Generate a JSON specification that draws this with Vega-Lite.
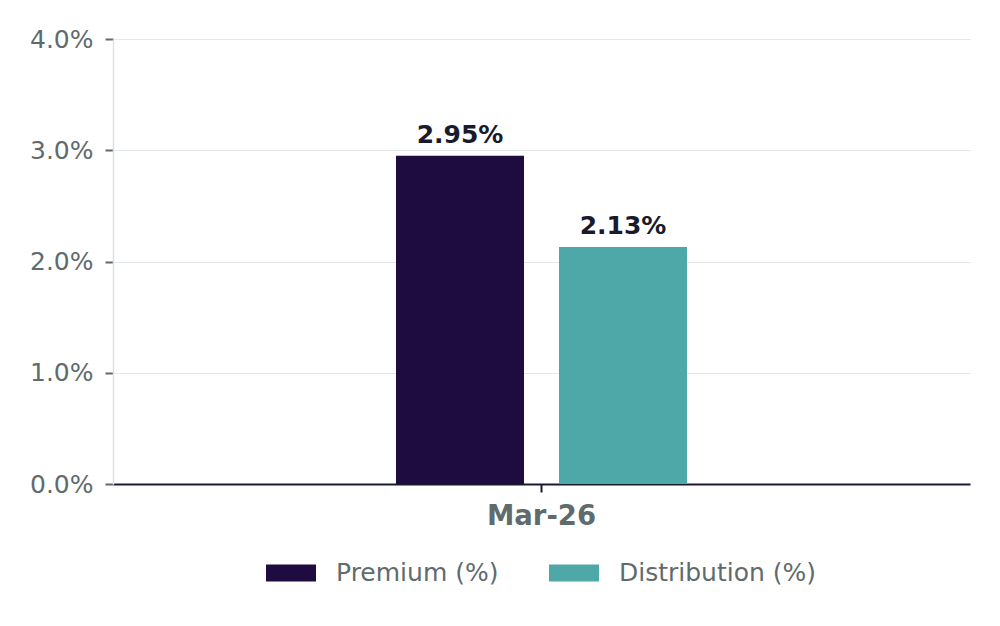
{
  "$schema": "https://vega.github.io/schema/vega-lite/v6.json",
  "width": 857,
  "height": 445,
  "autosize": {"type": "none"},
  "padding": {"left": 113, "top": 39, "right": 30, "bottom": 142},
  "background": "white",
  "config": {
    "view": {"stroke": null},
    "font": "DejaVu Sans"
  },
  "data": {
    "values": [
      {"date": "Mar-26", "series": "Premium (%)", "value": 0.0295},
      {"date": "Mar-26", "series": "Distribution (%)", "value": 0.0213}
    ]
  },
  "encoding": {
    "x": {
      "field": "date",
      "type": "nominal",
      "scale": {"paddingInner": 0, "paddingOuter": 0.9725},
      "axis": {
        "title": null,
        "labelAngle": 0,
        "labelFont": "DejaVu Sans",
        "labelFontSize": 27.5,
        "labelFontWeight": "bold",
        "labelColor": "#5f6b6d",
        "labelPadding": 10,
        "domainColor": "#1a1a2e",
        "domainWidth": 2,
        "tickColor": "#1a1a2e",
        "tickWidth": 2,
        "tickSize": 8,
        "grid": false
      }
    },
    "xOffset": {
      "field": "series",
      "type": "nominal",
      "sort": ["Premium (%)", "Distribution (%)"],
      "scale": {"paddingInner": 0.2147, "paddingOuter": 0}
    },
    "y": {
      "field": "value",
      "type": "quantitative",
      "scale": {"domain": [0, 0.04]},
      "axis": {
        "title": null,
        "format": ".1%",
        "tickCount": 5,
        "labelFont": "DejaVu Sans",
        "labelFontSize": 25,
        "labelColor": "#5f6b6d",
        "labelPadding": 12,
        "domainColor": "#dde1e6",
        "domainWidth": 1.5,
        "tickColor": "#5f6b6d",
        "tickSize": 8,
        "tickWidth": 2,
        "gridColor": "#e3e6ea",
        "gridWidth": 1
      }
    }
  },
  "layer": [
    {
      "mark": {"type": "bar"},
      "encoding": {
        "color": {
          "field": "series",
          "type": "nominal",
          "scale": {"domain": ["Premium (%)", "Distribution (%)"], "range": ["#1e0b40", "#4ea8a8"]},
          "legend": {
            "title": null,
            "orient": "none",
            "direction": "horizontal",
            "legendX": 153,
            "legendY": 509,
            "symbolType": "M-1,-0.34H1V0.34H-1Z",
            "symbolSize": 2500,
            "symbolStrokeWidth": 0,
            "labelFont": "DejaVu Sans",
            "labelFontSize": 25,
            "labelColor": "#5f6b6d",
            "labelOffset": 20,
            "labelLimit": 0,
            "columnPadding": 50
          }
        }
      }
    },
    {
      "mark": {"type": "text", "baseline": "bottom", "dy": -8, "font": "DejaVu Sans", "fontSize": 25, "fontWeight": "bold", "color": "#1a1a2e"},
      "encoding": {
        "text": {"field": "value", "type": "quantitative", "format": ".2%"}
      }
    }
  ]
}
